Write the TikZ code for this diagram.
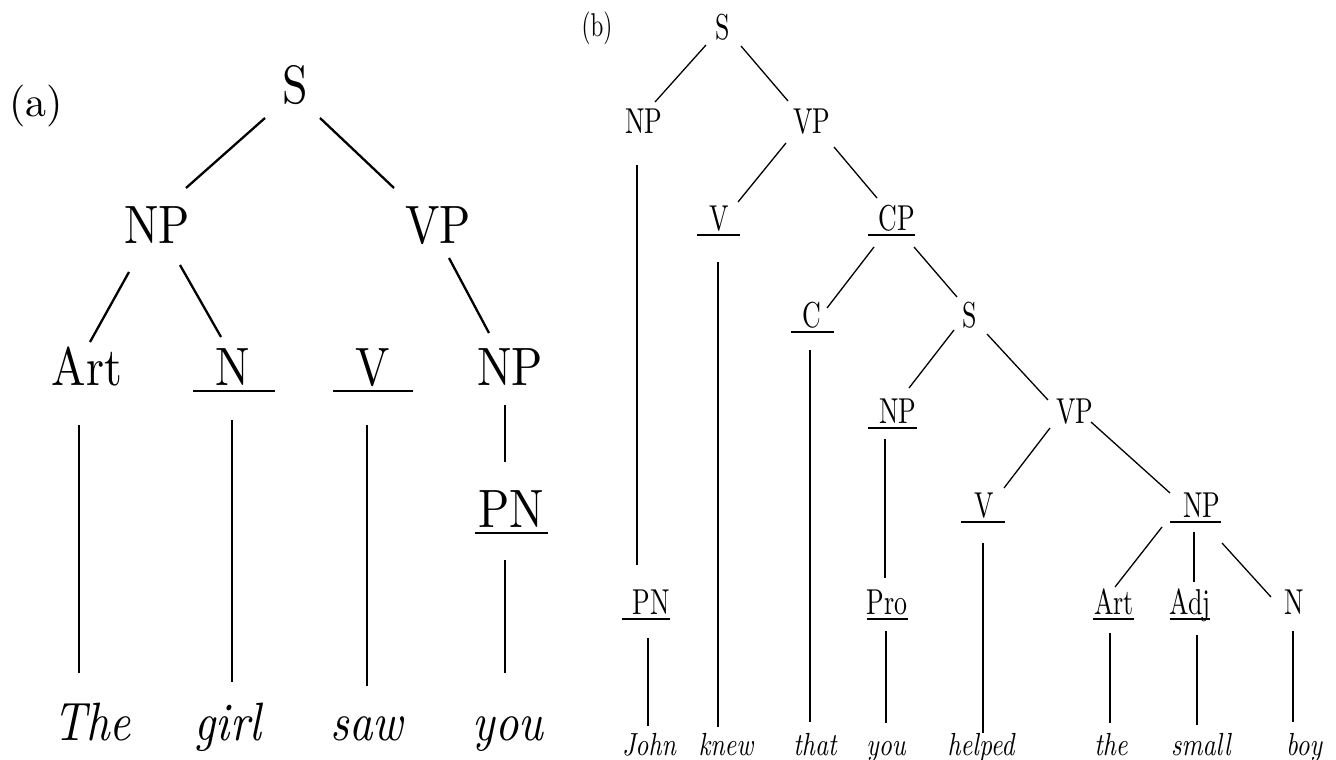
\documentclass[tikz,border=0pt]{standalone}
\usepackage{fontspec}
\setmainfont{lmroman10}[Extension=.otf, UprightFont=*-regular, ItalicFont=*-italic]
\usepackage{graphicx}
\newcommand\xa[1]{\scalebox{0.85}[1]{#1}}
\newcommand\xb[1]{\scalebox{0.72}[1]{#1}}
\newcommand\xw[1]{\scalebox{0.8}[1]{#1}}
\tikzset{
  la/.style={inner sep=0pt, anchor=base, font=\fontsize{54}{60}\selectfont},
  wa/.style={inner sep=0pt, anchor=base, font=\fontsize{54}{60}\selectfont\itshape},
  lb/.style={inner sep=0pt, anchor=base, font=\fontsize{36}{40}\selectfont},
  wb/.style={inner sep=0pt, anchor=base, font=\fontsize{32}{36}\selectfont\itshape},
  ea/.style={line width=2.3pt},
  eb/.style={line width=1.3pt},
  ula/.style={line width=2pt},
  ulb/.style={line width=1.2pt},
}
\begin{document}
\begin{tikzpicture}[x=1pt,y=-1pt]
\useasboundingbox[fill=white] (0,0) rectangle (1336,760);
% ---------- tree (a) ----------
\node[la, font=\fontsize{42}{48}\selectfont] (laba) at (36,117) {(a)};
\node[la] (aS)   at (295,103) {\xa{S}};
\node[la] (aNP)  at (157,243) {\xa{NP}};
\node[la] (aVP)  at (438,243) {\xa{VP}};
\node[la] (aArt) at (87,385)  {\xa{Art}};
\node[la] (aN)   at (233,385) {\xa{N}};
\node[la] (aV)   at (373,385) {\xa{V}};
\node[la] (aNPb) at (510,385) {\xa{NP}};
\node[la] (aPN)  at (511,527) {\xa{PN}};
\node[wa] (aThe)  at (92,740)  {\xa{The}};
\node[wa] (agirl) at (228,740) {\xa{girl}};
\node[wa] (asaw)  at (367,740) {\xa{saw}};
\node[wa] (ayou)  at (508,740) {\xa{you}};
% underlines (a)
\draw[ula] ([shift={(-40,6)}]aN.base) -- ([shift={(42,6)}]aN.base);
\draw[ula] ([shift={(-40,6)}]aV.base) -- ([shift={(40,6)}]aV.base);
\draw[ula] ([shift={(-36,6)}]aPN.base) -- ([shift={(37,6)}]aPN.base);
% edges (a)
\draw[ea] ([shift={(-30,15)}]aS.base) -- ([shift={(29,-55)}]aNP.base);
\draw[ea] ([shift={(25,15)}]aS.base) -- ([shift={(-44,-55)}]aVP.base);
\draw[ea] ([shift={(-28,29)}]aNP.base) -- ([shift={(3,-43)}]aArt.base);
\draw[ea] ([shift={(23,22)}]aNP.base) -- ([shift={(-12,-48)}]aN.base);
\draw[ea] ([shift={(11,15)}]aVP.base) -- ([shift={(-21,-52)}]aNPb.base);
\draw[ea] ([shift={(-5,20)}]aNPb.base) -- ([shift={(-6,-65)}]aPN.base);
\draw[ea] ([shift={(-8,40)}]aArt.base) -- ([shift={(-13,-67)}]aThe.base);
\draw[ea] ([shift={(-1,35)}]aN.base) -- ([shift={(4,-58)}]agirl.base);
\draw[ea] ([shift={(-6,40)}]aV.base) -- ([shift={(0,-54)}]asaw.base);
\draw[ea] ([shift={(-6,33)}]aPN.base) -- ([shift={(-3,-67)}]ayou.base);
% ---------- tree (b) ----------
\node[lb, font=\fontsize{33}{38}\selectfont] (labb) at (597,37) {\scalebox{0.7}[1]{(b)}};
\node[lb] (bS)   at (723,40)  {\xb{S}};
\node[lb] (bNP)  at (644,133) {\xb{NP}};
\node[lb] (bVP)  at (812,133) {\xb{VP}};
\node[lb] (bV)   at (719,230) {\xb{V}};
\node[lb] (bCP)  at (897,230) {\xb{CP}};
\node[lb] (bC)   at (812,327) {\xb{C}};
\node[lb] (bSb)  at (970,327) {\xb{S}};
\node[lb] (bNPb) at (898,423) {\xb{NP}};
\node[lb] (bVPb) at (1075,423) {\xb{VP}};
\node[lb] (bVb)  at (984,517) {\xb{V}};
\node[lb] (bNPc) at (1202,517) {\xb{NP}};
\node[lb] (bPN)  at (651,614) {\xb{PN}};
\node[lb] (bPro) at (887,614) {\xb{Pro}};
\node[lb] (bArt) at (1114,614) {\xb{Art}};
\node[lb] (bAdj) at (1190,614) {\xb{Adj}};
\node[lb] (bN)   at (1294,614) {\xb{N}};
\node[wb] (bJohn)   at (649,755)  {\xw{John}};
\node[wb] (bknew)   at (726,755)  {\xw{knew}};
\node[wb] (bthat)   at (815,755)  {\xw{that}};
\node[wb] (byou)    at (886,755)  {\xw{you}};
\node[wb] (bhelped) at (981,755)  {\xw{helped}};
\node[wb] (bthe)    at (1111,755) {\xw{the}};
\node[wb] (bsmall)  at (1201,755) {\xw{small}};
\node[wb] (bboy)    at (1304,755) {\xw{boy}};
% underlines (b)
\draw[ulb] ([shift={(-22,5)}]bV.base) -- ([shift={(21,5)}]bV.base);
\draw[ulb] ([shift={(-29,5)}]bCP.base) -- ([shift={(18,5)}]bCP.base);
\draw[ulb] ([shift={(-21,5)}]bC.base) -- ([shift={(22,5)}]bC.base);
\draw[ulb] ([shift={(-30,5)}]bNPb.base) -- ([shift={(19,5)}]bNPb.base);
\draw[ulb] ([shift={(-23,5)}]bVb.base) -- ([shift={(21,5)}]bVb.base);
\draw[ulb] ([shift={(-32,5)}]bNPc.base) -- ([shift={(19,5)}]bNPc.base);
\draw[ulb] ([shift={(-29,5)}]bPN.base) -- ([shift={(19,5)}]bPN.base);
\draw[ulb] ([shift={(-20,5)}]bPro.base) -- ([shift={(21,5)}]bPro.base);
\draw[ulb] ([shift={(-21,5)}]bArt.base) -- ([shift={(20,5)}]bArt.base);
\draw[ulb] ([shift={(-20,5)}]bAdj.base) -- ([shift={(20,5)}]bAdj.base);
% edges (b)
\draw[eb] ([shift={(-17,5)}]bS.base) -- ([shift={(11,-31)}]bNP.base);
\draw[eb] ([shift={(18,6)}]bS.base) -- ([shift={(-24,-32)}]bVP.base);
\draw[eb] ([shift={(-7,32)}]bNP.base) -- ([shift={(-14,-49)}]bPN.base);
\draw[eb] ([shift={(-26,10)}]bVP.base) -- ([shift={(19,-28)}]bV.base);
\draw[eb] ([shift={(22,14)}]bVP.base) -- ([shift={(-20,-32)}]bCP.base);
\draw[eb] ([shift={(-1,32)}]bV.base) -- ([shift={(-8,-28)}]bknew.base);
\draw[eb] ([shift={(-23,17)}]bCP.base) -- ([shift={(15,-19)}]bC.base);
\draw[eb] ([shift={(17,17)}]bCP.base) -- ([shift={(-13,-30)}]bSb.base);
\draw[eb] ([shift={(-2,23)}]bC.base) -- ([shift={(-5,-33)}]bthat.base);
\draw[eb] ([shift={(-16,3)}]bSb.base) -- ([shift={(11,-35)}]bNPb.base);
\draw[eb] ([shift={(17,7)}]bSb.base) -- ([shift={(-27,-23)}]bVPb.base);
\draw[eb] ([shift={(-13,16)}]bNPb.base) -- ([shift={(-2,-36)}]bPro.base);
\draw[eb] ([shift={(-25,5)}]bVPb.base) -- ([shift={(20,-29)}]bVb.base);
\draw[eb] ([shift={(16,-1)}]bVPb.base) -- ([shift={(-32,-24)}]bNPc.base);
\draw[eb] ([shift={(-1,26)}]bVb.base) -- ([shift={(2,-22)}]bhelped.base);
\draw[eb] ([shift={(-40,10)}]bNPc.base) -- ([shift={(1,-27)}]bArt.base);
\draw[eb] ([shift={(-8,15)}]bNPc.base) -- ([shift={(4,-32)}]bAdj.base);
\draw[eb] ([shift={(20,26)}]bNPc.base) -- ([shift={(-23,-17)}]bN.base);
\draw[eb] ([shift={(-3,24)}]bPN.base) -- ([shift={(-1,-29)}]bJohn.base);
\draw[eb] ([shift={(-1,17)}]bPro.base) -- ([shift={(0,-32)}]byou.base);
\draw[eb] ([shift={(-4,19)}]bArt.base) -- ([shift={(-1,-32)}]bthe.base);
\draw[eb] ([shift={(7,21)}]bAdj.base) -- ([shift={(-4,-30)}]bsmall.base);
\draw[eb] ([shift={(-1,17)}]bN.base) -- ([shift={(-11,-33)}]bboy.base);
\end{tikzpicture}
\end{document}
